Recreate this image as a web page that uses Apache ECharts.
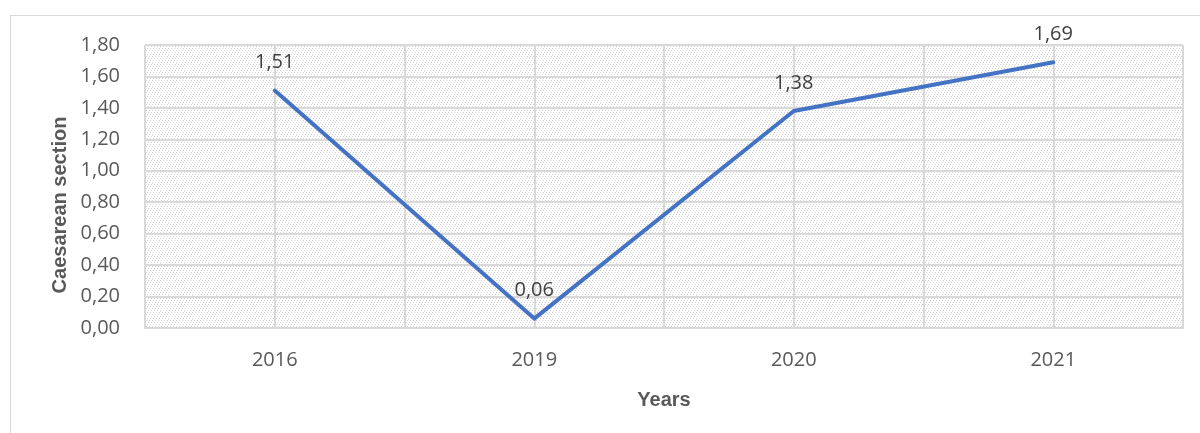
<!DOCTYPE html>
<html>
<head>
<meta charset="utf-8">
<script src="https://cdn.jsdelivr.net/npm/echarts@6/dist/echarts.min.js"></script>
<style>
  html, body { margin: 0; padding: 0; background: #fff; }
  #frame { position: absolute; left: 10px; top: 15px; width: 1200px; height: 430px; border: 1px solid #d9d9d9; box-sizing: border-box; }
  #chart { position: absolute; left: 0; top: 0; width: 1200px; height: 433px; }
</style>
</head>
<body>
<div id="frame"></div>
<div id="chart"></div>
<script>
// Caesarean section rate by year
const years = ['2016', '2019', '2020', '2021'];
const caesarean = [1.51, 0.06, 1.38, 1.69];
const yMin = 0, yMax = 1.8, yStep = 0.2;
const xTitle = 'Years';
const yTitle = 'Caesarean section';

// Light dotted diagonal hatch for the plot area
function hatchPattern() {
  const n = 6;
  const c = document.createElement('canvas');
  c.width = n; c.height = n;
  const g = c.getContext('2d');
  g.fillStyle = '#ffffff';
  g.fillRect(0, 0, n, n);
  g.fillStyle = '#d4d4d4';
  for (let i = 0; i < n; i += 2) {
    g.fillRect(i, i, 1, 1);
    g.fillRect((i + 3) % n, i, 1, 1);
  }
  return { image: c, repeat: 'repeat' };
}

const labelFont = '"Open Sans"';
const titleFont = 'Liberation Sans';
const fmt = v => v.toFixed(2).replace('.', ',');
// a finer category axis that only supplies gridlines at band centres and edges
const gridSlots = years.flatMap(y => [y + 'a', y + 'b']);

const chart = echarts.init(document.getElementById('chart'), null, { renderer: 'canvas' });
chart.setOption({
  animation: false,
  grid: {
    left: 145, right: 17, top: 45, bottom: 105,
    show: true,
    backgroundColor: hatchPattern(),
    borderColor: '#d9d9d9', borderWidth: 1
  },
  graphic: [{
    type: 'text',
    x: 60, y: 205,
    rotation: Math.PI / 2,
    style: {
      text: yTitle, fill: '#595959',
      font: 'bold 20px "' + titleFont + '"',
      align: 'center', verticalAlign: 'middle'
    }
  }],
  xAxis: [{
    type: 'category',
    data: years,
    boundaryGap: true,
    name: xTitle,
    nameLocation: 'middle',
    nameGap: 62,
    nameTextStyle: { fontFamily: titleFont, fontWeight: 'bold', fontSize: 20, color: '#595959' },
    axisLine: { show: true, lineStyle: { color: '#d9d9d9', width: 2 } },
    axisTick: { show: false },
    axisLabel: { color: '#595959', fontSize: 20, margin: 22, fontFamily: labelFont },
    splitLine: { show: false }
  }, {
    type: 'category',
    data: gridSlots,
    boundaryGap: true,
    position: 'bottom',
    axisLine: { show: false },
    axisTick: { show: false },
    axisLabel: { show: false },
    splitLine: { show: true, interval: 0, lineStyle: { color: '#d9d9d9', width: 2 } }
  }],
  yAxis: {
    type: 'value',
    min: yMin, max: yMax, interval: yStep,
    axisLine: { show: false },
    axisTick: { show: false },
    axisLabel: { color: '#595959', fontSize: 20, margin: 25, fontFamily: labelFont, formatter: fmt },
    splitLine: { show: true, lineStyle: { color: '#d9d9d9', width: 2 } }
  },
  series: [{
    type: 'line',
    xAxisIndex: 0,
    data: caesarean,
    symbol: 'circle',
    symbolSize: 2,
    showSymbol: true,
    itemStyle: { color: 'rgba(68,114,196,0)' },
    lineStyle: { color: '#4472C4', width: 4, cap: 'round', join: 'round' },
    label: {
      show: true, position: 'top', distance: 17,
      color: '#404040', fontSize: 20, fontFamily: labelFont,
      formatter: p => fmt(p.value)
    }
  }]
});
</script>
</body>
</html>
